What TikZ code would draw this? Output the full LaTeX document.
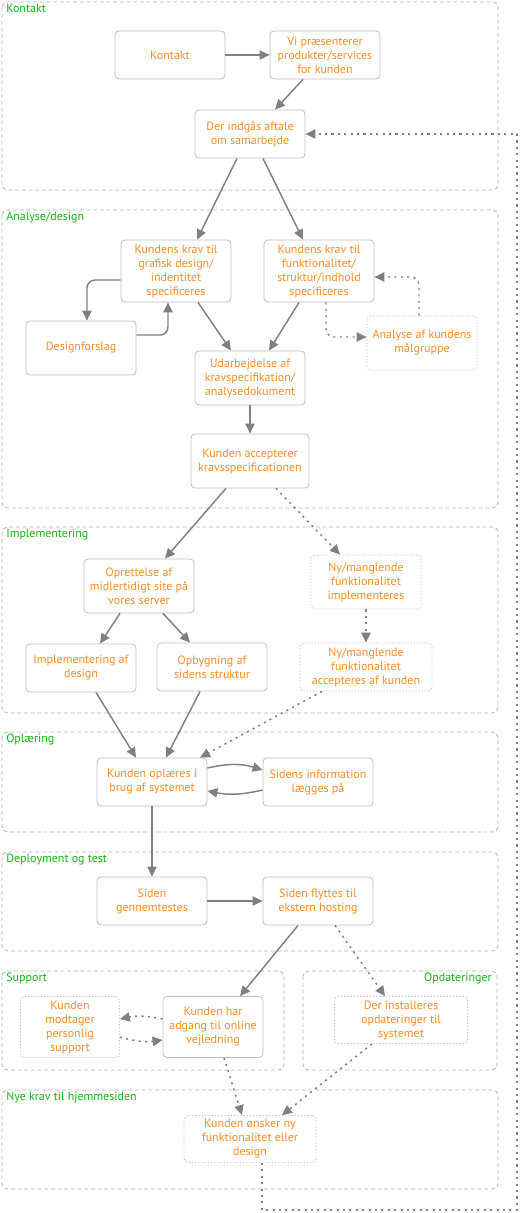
\documentclass[tikz,border=0pt]{standalone}
\usepackage{fontspec}
\setmainfont{PT Sans}
\usetikzlibrary{arrows.meta,calc}
\definecolor{txtorange}{RGB}{248,140,36}
\definecolor{lblgreen}{RGB}{20,180,20}
\definecolor{arrgray}{RGB}{128,128,128}
\definecolor{boxgray}{RGB}{190,190,190}
\definecolor{phasegray}{RGB}{178,178,178}
\tikzset{
  stepbox/.style={draw=boxgray,line width=0.6pt,rounded corners=3pt,text=txtorange,align=center,
    inner sep=0pt,minimum width=82.5pt,minimum height=36pt,font=\fontsize{9}{10.5}\selectfont},
  optbox/.style={stepbox,dash pattern=on 0.8pt off 1.6pt},
  phase/.style={draw=phasegray,line width=0.6pt,dash pattern=on 3pt off 2pt,rounded corners=4pt},
  phaselabel/.style={text=lblgreen,inner sep=0pt,font=\fontsize{9}{10.5}\selectfont},
  flow/.style={draw=arrgray,line width=1.1pt,-{Triangle[length=7.5pt,width=7pt]}},
  optflow/.style={flow,dash pattern=on 1.6pt off 3.2pt},
}
\begin{document}
\begin{tikzpicture}[x=0.75pt,y=-0.75pt]
\useasboundingbox (0,0) rectangle (520,1213);

\draw[phase] (2,2) rectangle (498,190);
\draw[phase] (2,210) rectangle (498,508);
\draw[phase] (2,527) rectangle (498,713);
\draw[phase] (2,732) rectangle (498,832);
\draw[phase] (2,852) rectangle (498,951);
\draw[phase] (2,971) rectangle (284,1070);
\draw[phase] (303,971) rectangle (497,1070);
\draw[phase] (2,1090) rectangle (498,1189);

\node[phaselabel,anchor=base west] (lkontakt) at (6,12.5) {Kontakt};
\node[phaselabel,anchor=base west] (lanalyse) at (6,220.5) {Analyse/design};
\node[phaselabel,anchor=base west] (limpl) at (6,537.5) {Implementering};
\node[phaselabel,anchor=base west] (loplaer) at (6,742.5) {Oplæring};
\node[phaselabel,anchor=base west] (ldeploy) at (6,862.5) {Deployment og test};
\node[phaselabel,anchor=base west] (lsupport) at (6,981.5) {Support};
\node[phaselabel,anchor=base east] (lopdat) at (492,981.5) {Opdateringer};
\node[phaselabel,anchor=base west] (lnye) at (6,1100.5) {Nye krav til hjemmesiden};

\node[stepbox] (kontakt) at (170,55) {Kontakt};
\node[stepbox] (praes) at (325,55) {Vi præsenterer\\produkter/services\\for kunden};
\node[stepbox] (aftale) at (250,134) {Der indgås aftale\\om samarbejde};

\node[stepbox,minimum height=46.5pt] (grafisk) at (176,271) {Kundens krav til\\grafisk design/\\indentitet\\specificeres};
\node[stepbox,minimum height=46.5pt] (funk) at (319,271) {Kundens krav til\\funktionalitet/\\struktur/indhold\\specificeres};
\node[stepbox,minimum height=40.5pt] (designf) at (81,348) {Designforslag};
\node[optbox,minimum height=40.5pt] (analyse) at (422,343) {Analyse af kundens\\målgruppe};
\node[stepbox,minimum height=40.5pt] (udarb) at (250,378) {Udarbejdelse af\\kravspecifikation/\\analysedokument};
\node[stepbox,minimum width=88.5pt,minimum height=40.5pt] (accept) at (250,461) {Kunden accepterer\\kravsspecificationen};

\node[stepbox,minimum height=40.5pt] (opret) at (139,586) {Oprettelse af\\midlertidigt site på\\vores server};
\node[optbox,minimum height=40.5pt] (nyimpl) at (366,582) {Ny/manglende\\funktionalitet\\implementeres};
\node[stepbox] (impldesign) at (81,668) {Implementering af\\design};
\node[stepbox] (opbyg) at (212,667) {Opbygning af\\sidens struktur};
\node[optbox,minimum width=99pt] (nyaccept) at (366,667) {Ny/manglende\\funktionalitet\\accepteres af kunden};

\node[stepbox] (oplaer) at (152,782) {Kunden oplæres i\\brug af systemet};
\node[stepbox] (info) at (318,782) {Sidens information\\lægges på};

\node[stepbox] (gennem) at (152,901) {Siden\\gennemtestes};
\node[stepbox] (flyttes) at (318,901) {Siden flyttes til\\ekstern hosting};

\node[optbox,minimum width=74.25pt,minimum height=45.75pt] (modtager) at (70,1027) {Kunden\\modtager\\personlig\\support};
\node[stepbox,minimum width=75pt,minimum height=45.75pt] (adgang) at (213,1027) {Kunden har\\adgang til online\\vejledning};
\node[optbox,minimum width=99.75pt,minimum height=35.25pt] (install) at (401,1020) {Der installeres\\opdateringer til\\systemet};

\node[optbox,minimum width=99pt,minimum height=35.25pt] (onsker) at (250,1139) {Kunden ønsker ny\\funktionalitet eller\\design};

\coordinate (feedbot) at (517,1210);

\draw[flow] (kontakt) -- (praes);
\draw[flow] ($(praes.south)+(-22,0)$) -- ($(aftale.north)+(25,0)$);
\draw[flow] ($(aftale.south)+(-13,0)$) -- ($(grafisk.north)+(21,0)$);
\draw[flow] ($(aftale.south)+(13,0)$) -- ($(funk.north)+(-16,0)$);

\draw[flow,rounded corners=6pt] ($(grafisk.west)+(0,9)$) -| ($(designf.north)+(6,0)$);
\draw[flow,rounded corners=6pt] ($(designf.east)+(0,-13)$) -| ($(grafisk.south)+(-8,0)$);
\draw[optflow,rounded corners=6pt] ($(funk.south)+(7,0)$) |- ($(analyse.west)+(0,-6)$);
\draw[optflow,rounded corners=6pt] ($(analyse.north)+(-3,0)$) |- ($(funk.east)+(0,6)$);
\draw[flow] ($(grafisk.south)+(22,0)$) -- ($(udarb.north)+(-19,0)$);
\draw[flow] ($(funk.south)+(-20,0)$) -- ($(udarb.north)+(19,0)$);
\draw[flow] (udarb) -- (accept);

\draw[flow] ($(accept.south)+(-24,0)$) -- ($(opret.north)+(26,0)$);
\draw[optflow] ($(accept.south)+(26,0)$) -- ($(nyimpl.north)+(-26,0)$);
\draw[flow] ($(opret.south)+(-19,0)$) -- ($(impldesign.north)+(19,0)$);
\draw[flow] ($(opret.south)+(24,0)$) -- ($(opbyg.north)+(-22,0)$);
\draw[optflow] (nyimpl) -- (nyaccept);

\draw[flow] ($(impldesign.south)+(15,0)$) -- ($(oplaer.north)+(-16,0)$);
\draw[flow] ($(opbyg.south)+(-12,0)$) -- ($(oplaer.north)+(14,0)$);
\draw[optflow] ($(nyaccept.south)+(-44,0)$) -- ($(oplaer.north)+(48,0)$);
\draw[flow] ($(oplaer.east)+(0,-14)$) to[bend left=15] ($(info.west)+(0,-12)$);
\draw[flow] ($(info.west)+(0,8)$) to[bend left=12] ($(oplaer.east)+(0,9)$);
\draw[flow] (oplaer) -- (gennem);

\draw[flow] (gennem) -- (flyttes);
\draw[flow] ($(flyttes.south)+(-20,0)$) -- ($(adgang.north)+(27,0)$);
\draw[optflow] ($(flyttes.south)+(17,0)$) -- ($(install.north)+(-16,0)$);
\draw[optflow] ($(adgang.west)+(0,-8)$) to[bend right=12] ($(modtager.east)+(0,-8)$);
\draw[optflow] ($(modtager.east)+(0,10)$) to[bend right=12] ($(adgang.west)+(0,13)$);
\draw[optflow] ($(adgang.south)+(11,0)$) -- ($(onsker.north)+(-8,0)$);
\draw[optflow] ($(install.south)+(-29,0)$) -- ($(onsker.north)+(32,0)$);

\draw[optflow] ($(onsker.south)+(12,0)$) |- (feedbot) |- (aftale.east);
\end{tikzpicture}
\end{document}
